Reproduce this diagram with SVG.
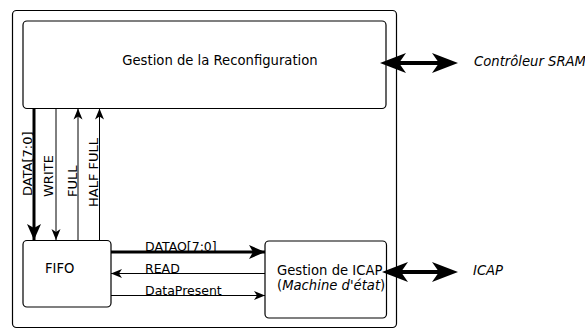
<svg xmlns="http://www.w3.org/2000/svg" width="585" height="329" viewBox="0 0 585 329">
<style>
.box{fill:#fff;stroke:#000;stroke-width:1.2}
.t{font-family:"DejaVu Sans",sans-serif;font-size:13.2px;fill:#000}
.s{font-family:"DejaVu Sans",sans-serif;font-size:12.5px;fill:#000}
.v{font-family:"DejaVu Sans",sans-serif;font-size:13px;fill:#000}
.thin{stroke:#000;stroke-width:1;fill:none}
.thick{stroke:#000;stroke-width:3;fill:none}
.bi{stroke:#000;stroke-width:4;fill:none}
.head{fill:#000}
</style>
<defs>
<marker id="ah" markerUnits="userSpaceOnUse" viewBox="-12 -6 13 12" markerWidth="13" markerHeight="12" refX="0" refY="0" orient="auto">
<path d="M0,0 L-11,-4.5 L-8,0 L-11,4.5 Z" fill="#000"/>
</marker>
<marker id="ahT" markerUnits="userSpaceOnUse" viewBox="-17 -8 18 16" markerWidth="18" markerHeight="16" refX="0" refY="0" orient="auto">
<path d="M0,0 L-16,-7 L-12,0 L-16,7 Z" fill="#000"/>
</marker>
<path id="bihead" d="M0,0 L26,-10 L19,0 L26,10 Z"/>
</defs>
<g id="outer"><rect class="box" x="12.5" y="10.5" width="384" height="317" rx="4" stroke-width="1.5"/></g>
<g id="reconf"><rect class="box" x="23" y="21" width="363" height="87.5" rx="4"/>
<text class="t" x="220" y="65" text-anchor="middle">Gestion de la Reconfiguration</text></g>
<g id="fifo"><rect class="box" x="23" y="240.5" width="88" height="66.5" rx="4"/>
<text class="t" x="45" y="273">FIFO</text></g>
<g id="icap"><rect class="box" x="265" y="241" width="121.5" height="77" rx="4"/>
<text class="t" x="277" y="275">Gestion de ICAP</text>
<text class="t" x="277" y="290">(<tspan font-style="italic">Machine d'état</tspan>)</text></g>
<g id="ext">
<text class="t" x="474" y="66" font-style="italic">Contrôleur SRAM</text>
<text class="t" x="473" y="275" font-style="italic">ICAP</text>
</g>
<g id="connectors">
<line class="thick" x1="34" y1="108.5" x2="34" y2="240" marker-end="url(#ahT)"/>
<line class="thin" x1="56" y1="108.5" x2="56" y2="240" marker-end="url(#ah)"/>
<line class="thin" x1="78" y1="240.5" x2="78" y2="108.5" marker-end="url(#ah)"/>
<line class="thin" x1="99.5" y1="240.5" x2="99.5" y2="108.5" marker-end="url(#ah)"/>
<line class="thick" x1="111" y1="252" x2="265" y2="252" marker-end="url(#ahT)"/>
<line class="thin" x1="265" y1="273.5" x2="111" y2="273.5" marker-end="url(#ah)"/>
<line class="thin" x1="111" y1="295.5" x2="265" y2="295.5" marker-end="url(#ah)"/>
<line class="bi" x1="395" y1="63" x2="443" y2="63"/>
<use href="#bihead" class="head" transform="translate(380,63)"/>
<use href="#bihead" class="head" transform="translate(458,63) scale(-1,1)"/>
<line class="bi" x1="397" y1="272" x2="443" y2="272"/>
<use href="#bihead" class="head" transform="translate(382,272)"/>
<use href="#bihead" class="head" transform="translate(458,272) scale(-1,1)"/>
<text class="v" transform="translate(31.5,196) rotate(-90)">DATA[7:0]</text>
<text class="v" transform="translate(53,197) rotate(-90)">WRITE</text>
<text class="v" transform="translate(76.5,197) rotate(-90)">FULL</text>
<text class="v" transform="translate(98,207) rotate(-90)">HALF FULL</text>
<text class="s" x="145" y="251">DATAO[7:0]</text>
<text class="s" x="145" y="272.5">READ</text>
<text class="s" x="145" y="295">DataPresent</text>
</g>
</svg>
